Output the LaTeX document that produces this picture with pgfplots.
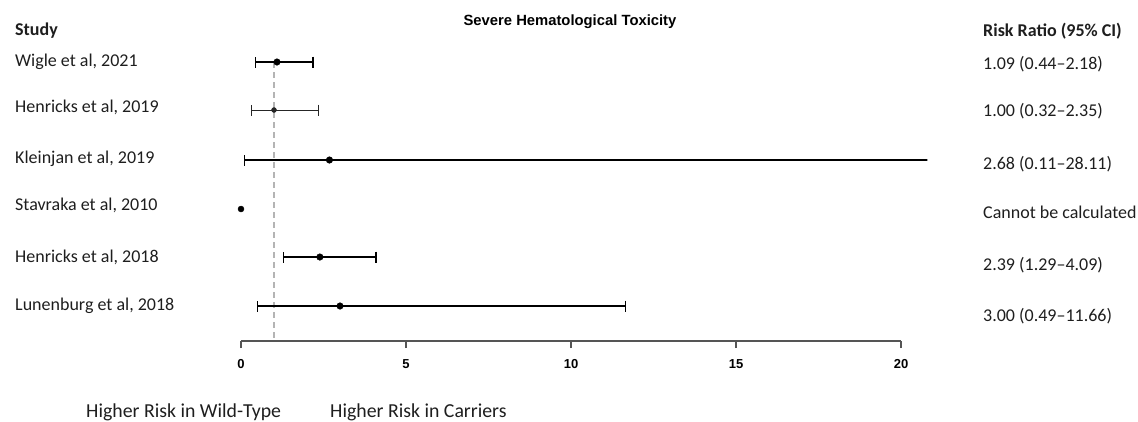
\documentclass[border=0pt]{standalone}
\usepackage{pgfplots}
\pgfplotsset{compat=1.18}
\usepackage{pgfplotstable}
\usepackage{fontspec}
\setmainfont{Carlito}
\newfontfamily\arialfont{Liberation Sans}

\definecolor{txt}{HTML}{1E1E1E}
\definecolor{refline}{HTML}{B4B4B4}
\definecolor{axisgray}{HTML}{555555}

% risk ratios with 95% CI; "row" is the vertical position of each study
\pgfplotstableread{
row  rr    lo    hi
62   1.09  0.44  2.18
160  2.68  0.11  28.11
257  2.39  1.29  4.09
306  3.00  0.49  11.66
}\heavy
\pgfplotstableread{
row  rr    lo    hi
110  1.00  0.32  2.35
}\light
\pgfplotstableread{
row  rr
209  0.00
}\nocalc

\newcommand{\fs}[1]{\fontsize{#1}{#1}\selectfont}

\begin{document}
\begin{tikzpicture}[x=1pt,y=1pt]
\path[use as bounding box] (0,0) rectangle (1138,-421);

% estimates and intervals
\begin{axis}[
  at={(221.2pt,-40pt)}, anchor=north west,
  x=33pt, y=1pt, y dir=reverse,
  xmin=-0.6, xmax=20.8, ymin=40, ymax=345,
  hide axis,
]
\addplot[refline, line width=1.1pt, dash pattern=on 6pt off 4pt]
  coordinates {(1,62) (1,341)};
\addplot[only marks, mark=*, mark size=3.3pt, black,
  error bars/.cd, x dir=both, x explicit,
  error mark=|,
  error bar style={line width=1.7pt, black},
  error mark options={line width=1.3pt, mark size=5.5pt, black}]
  table[x=rr, y=row,
        x error plus expr=\thisrow{hi}-\thisrow{rr},
        x error minus expr=\thisrow{rr}-\thisrow{lo}] {\heavy};
\addplot[only marks, mark=*, mark size=2.5pt, black!85,
  error bars/.cd, x dir=both, x explicit,
  error mark=|,
  error bar style={line width=0.9pt, black!85},
  error mark options={line width=1.0pt, mark size=5.5pt, black!85}]
  table[x=rr, y=row,
        x error plus expr=\thisrow{hi}-\thisrow{rr},
        x error minus expr=\thisrow{rr}-\thisrow{lo}] {\light};
\addplot[only marks, mark=*, mark size=3pt, black]
  table[x=rr, y=row] {\nocalc};
\end{axis}

% risk ratio scale
\begin{axis}[
  at={(241pt,-341pt)}, anchor=south west,
  x=33pt, y=1pt,
  xmin=0, xmax=20, ymin=0, ymax=1,
  axis x line=bottom, hide y axis,
  x axis line style={-, line width=1.6pt, draw=axisgray},
  xtick={0,5,10,15,20},
  tick align=outside, major tick length=7pt,
  tick style={line width=1.3pt, draw=axisgray},
  /pgf/number format/assume math mode=true,
  xticklabel style={font=\arialfont\bfseries\fs{13}, text=black, yshift=-8pt},
]
\end{axis}

% text columns
\node[anchor=center, font=\arialfont\bfseries\fs{14.8}, text=black] at (570,-22) {Severe Hematological Toxicity};
\node[anchor=west, inner sep=0pt, font=\bfseries\fs{18}, text=txt] at (15,-31) {Study};
\begin{scope}[every node/.style={anchor=west, inner sep=0pt, font=\fs{18}, text=txt}]
\node at (15,-62)  {Wigle et al, 2021};
\node at (15,-107) {Henricks et al, 2019};
\node at (15,-159) {Kleinjan et al, 2019};
\node at (15,-205) {Stavraka et al, 2010};
\node at (15,-257) {Henricks et al, 2018};
\node at (15,-306) {Lunenburg et al, 2018};
\end{scope}
\node[anchor=west, inner sep=0pt, font=\bfseries\fs{18}, text=txt] at (983,-31) {Risk Ratio (95\% CI)};
\begin{scope}[every node/.style={anchor=west, inner sep=0pt, font=\fs{18}, text=txt}]
\node at (983,-64)  {1.09 (0.44–2.18)};
\node at (983,-111) {1.00 (0.32–2.35)};
\node at (983,-164) {2.68 (0.11–28.11)};
\node at (983,-212) {Cannot be calculated};
\node at (983,-265) {2.39 (1.29–4.09)};
\node at (983,-316) {3.00 (0.49–11.66)};
\end{scope}
\node[anchor=west, inner sep=0pt, font=\fs{19.8}, text=txt] at (86,-412) {Higher Risk in Wild-Type};
\node[anchor=west, inner sep=0pt, font=\fs{19.8}, text=txt] at (330,-412) {Higher Risk in Carriers};
\end{tikzpicture}
\end{document}
